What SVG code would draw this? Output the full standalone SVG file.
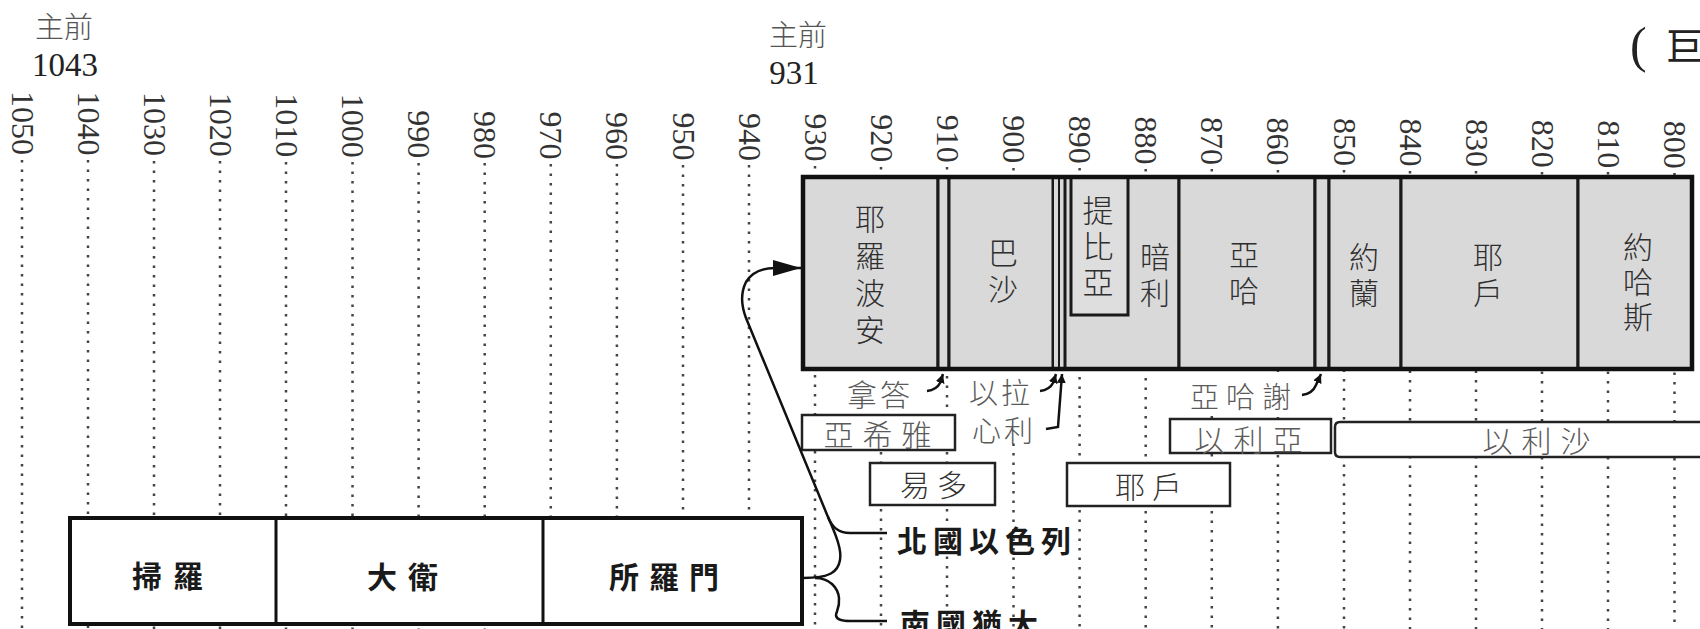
<svg xmlns="http://www.w3.org/2000/svg" width="1700" height="629" viewBox="0 0 1700 629">
<style>
.yr{font-family:"Liberation Serif",serif;font-size:32px;fill:#333;text-anchor:end}
.dot{stroke:#444;stroke-width:2.5;stroke-dasharray:2.5 7;fill:none}
.cj{font-family:"Noto Sans CJK TC","Noto Sans CJK SC",sans-serif}
.k{fill:#d9d9d9;stroke:#1a1a1a;stroke-width:3}
.kl{font-family:"Noto Sans CJK TC","Noto Sans CJK SC",sans-serif;font-size:30px;fill:#2e2e2e;font-weight:300;writing-mode:vertical-rl}
.sl{font-family:"Noto Sans CJK TC","Noto Sans CJK SC",sans-serif;font-size:30px;fill:#5a5a5a;text-anchor:middle;dominant-baseline:central;font-weight:300}
.bx{fill:#fff;stroke:#222;stroke-width:2.5}
.big{font-family:"Noto Sans CJK TC","Noto Sans CJK SC",sans-serif;font-size:30px;fill:#1a1a1a;font-weight:700}
.con{fill:none;stroke:#111;stroke-width:2.5}
.hk{fill:none;stroke:#111;stroke-width:2.5}
</style>
<defs>
<marker id="ah" markerUnits="userSpaceOnUse" markerWidth="30" markerHeight="18" refX="28" refY="8" orient="auto"><path d="M0,0 L28,8 L0,16 z" fill="#111"/></marker>
<marker id="sa" markerUnits="userSpaceOnUse" markerWidth="10" markerHeight="10" refX="9" refY="4.5" orient="auto"><path d="M0,0 L9,4.5 L0,9 z" fill="#111"/></marker>
</defs>
<rect width="1700" height="629" fill="#fff"/>

<g id="header">
<text class="cj" x="64" y="25" font-size="29" fill="#555" font-weight="300" text-anchor="middle" dominant-baseline="central">主前</text>
<text x="65" y="76" font-family="Liberation Serif,serif" font-size="33" fill="#222" text-anchor="middle">1043</text>
<text class="cj" x="798" y="33" font-size="29" fill="#555" font-weight="300" text-anchor="middle" dominant-baseline="central">主前</text>
<text x="794" y="84" font-family="Liberation Serif,serif" font-size="33" fill="#222" text-anchor="middle">931</text>
<text x="1630" y="62" font-family="Liberation Serif,serif" font-size="50" fill="#222">(</text>
<text class="cj" x="1666" y="60" font-size="38" fill="#222">巨</text>
</g>

<g id="gridlines">
<line class="dot" x1="22" y1="160" x2="22" y2="629"/>
<line class="dot" x1="88" y1="160" x2="88" y2="629"/>
<line class="dot" x1="154" y1="161" x2="154" y2="629"/>
<line class="dot" x1="220" y1="161" x2="220" y2="629"/>
<line class="dot" x1="286" y1="162" x2="286" y2="629"/>
<line class="dot" x1="352.5" y1="162" x2="352.5" y2="629"/>
<line class="dot" x1="418.6" y1="163" x2="418.6" y2="629"/>
<line class="dot" x1="484.7" y1="163" x2="484.7" y2="629"/>
<line class="dot" x1="550.8" y1="164" x2="550.8" y2="629"/>
<line class="dot" x1="616.9" y1="164" x2="616.9" y2="629"/>
<line class="dot" x1="683" y1="165" x2="683" y2="629"/>
<line class="dot" x1="749" y1="165" x2="749" y2="629"/>
<line class="dot" x1="815" y1="166" x2="815" y2="629"/>
<line class="dot" x1="881" y1="167" x2="881" y2="629"/>
<line class="dot" x1="947" y1="167" x2="947" y2="629"/>
<line class="dot" x1="1013.5" y1="168" x2="1013.5" y2="629"/>
<line class="dot" x1="1079.6" y1="168" x2="1079.6" y2="629"/>
<line class="dot" x1="1145.7" y1="169" x2="1145.7" y2="629"/>
<line class="dot" x1="1211.8" y1="169" x2="1211.8" y2="629"/>
<line class="dot" x1="1277.9" y1="170" x2="1277.9" y2="629"/>
<line class="dot" x1="1344" y1="170" x2="1344" y2="629"/>
<line class="dot" x1="1410" y1="171" x2="1410" y2="629"/>
<line class="dot" x1="1476" y1="171" x2="1476" y2="629"/>
<line class="dot" x1="1542" y1="172" x2="1542" y2="629"/>
<line class="dot" x1="1608" y1="172" x2="1608" y2="629"/>
<line class="dot" x1="1674.5" y1="173" x2="1674.5" y2="629"/>
</g>

<g id="axis-labels">
<text class="yr" transform="translate(11.5,155) rotate(90)">1050</text>
<text class="yr" transform="translate(77.6,155.6) rotate(90)">1040</text>
<text class="yr" transform="translate(143.7,156.1) rotate(90)">1030</text>
<text class="yr" transform="translate(209.8,156.7) rotate(90)">1020</text>
<text class="yr" transform="translate(275.9,157.2) rotate(90)">1010</text>
<text class="yr" transform="translate(342,157.8) rotate(90)">1000</text>
<text class="yr" transform="translate(408.1,158.3) rotate(90)">990</text>
<text class="yr" transform="translate(474.2,158.9) rotate(90)">980</text>
<text class="yr" transform="translate(540.3,159.4) rotate(90)">970</text>
<text class="yr" transform="translate(606.4,160) rotate(90)">960</text>
<text class="yr" transform="translate(672.5,160.5) rotate(90)">950</text>
<text class="yr" transform="translate(738.6,161.1) rotate(90)">940</text>
<text class="yr" transform="translate(804.7,161.6) rotate(90)">930</text>
<text class="yr" transform="translate(870.8,162.2) rotate(90)">920</text>
<text class="yr" transform="translate(936.9,162.7) rotate(90)">910</text>
<text class="yr" transform="translate(1003,163.3) rotate(90)">900</text>
<text class="yr" transform="translate(1069.1,163.8) rotate(90)">890</text>
<text class="yr" transform="translate(1135.2,164.4) rotate(90)">880</text>
<text class="yr" transform="translate(1201.3,164.9) rotate(90)">870</text>
<text class="yr" transform="translate(1267.4,165.5) rotate(90)">860</text>
<text class="yr" transform="translate(1333.5,166) rotate(90)">850</text>
<text class="yr" transform="translate(1399.6,166.6) rotate(90)">840</text>
<text class="yr" transform="translate(1465.7,167.1) rotate(90)">830</text>
<text class="yr" transform="translate(1531.8,167.7) rotate(90)">820</text>
<text class="yr" transform="translate(1597.9,168.2) rotate(90)">810</text>
<text class="yr" transform="translate(1664,168.8) rotate(90)">800</text>
</g>

<g id="jeroboam"><rect class="k" x="803" y="177" width="135" height="192"/>
<text class="kl" x="870" y="204" letter-spacing="7">耶羅波安</text></g>
<g id="nadab"><rect class="k" x="938" y="177" width="11" height="192"/></g>
<g id="baasha"><rect class="k" x="949" y="177" width="104" height="192"/>
<text class="kl" x="1003" y="238" letter-spacing="6">巴沙</text></g>
<g id="elah"><rect class="k" x="1053" y="177" width="6" height="192" style="stroke-width:2"/></g>
<g id="zimri"><rect class="k" x="1059" y="177" width="6" height="192" style="stroke-width:2"/></g>
<g id="omri"><rect class="k" x="1065" y="177" width="114" height="192"/>
<text class="kl" x="1155" y="242" letter-spacing="6">暗利</text></g>
<g id="tibni"><rect class="k" x="1071" y="177" width="57" height="138" style="fill:#dedede"/>
<text class="kl" x="1098" y="195" letter-spacing="5" style="font-size:31px">提比亞</text></g>
<g id="ahab"><rect class="k" x="1179" y="177" width="136" height="192"/>
<text class="kl" x="1244" y="240" letter-spacing="6">亞哈</text></g>
<g id="ahaziah"><rect class="k" x="1315" y="177" width="14" height="192"/></g>
<g id="joram"><rect class="k" x="1329" y="177" width="72" height="192"/>
<text class="kl" x="1364" y="242" letter-spacing="6">約蘭</text></g>
<g id="jehu"><rect class="k" x="1401" y="177" width="177" height="192"/>
<text class="kl" x="1488" y="242" letter-spacing="6">耶戶</text></g>
<g id="jehoahaz"><rect class="k" x="1578" y="177" width="114" height="192"/>
<text class="kl" x="1638" y="232" letter-spacing="5">約哈斯</text></g>
<rect x="803" y="177" width="889" height="192" fill="none" stroke="#111" stroke-width="4.5"/>

<g id="nadab-label"><rect x="845" y="376" width="70" height="34" fill="#fff"/><text class="sl" x="880" y="393" letter-spacing="3">拿答</text></g>
<g id="elah-label"><rect x="963" y="376" width="74" height="66" fill="#fff"/><text class="sl" x="1001" y="391" letter-spacing="3" style="font-size:29px">以拉</text></g>
<g id="zimri-label"><text class="sl" x="1004" y="429" letter-spacing="3" style="font-size:29px">心利</text></g>
<g id="ahaziah-label"><rect x="1186" y="378" width="112" height="36" fill="#fff"/><text class="sl" x="1244" y="395" letter-spacing="7" style="font-size:29px">亞哈謝</text></g>

<g id="ahijah"><rect class="bx" x="802" y="415" width="153" height="35"/><text class="sl" x="882" y="433" letter-spacing="9">亞希雅</text></g>
<g id="elijah"><rect class="bx" x="1170" y="419" width="161" height="34"/><text class="sl" x="1253" y="438" letter-spacing="9">以利亞</text></g>
<g id="elisha"><path d="M1712,422 L1340,422 Q1335,422 1335,427 L1335,452 Q1335,457 1340,457 L1712,457" fill="#fff" stroke="#222" stroke-width="2.5"/><text class="sl" x="1541" y="439" letter-spacing="9">以利沙</text></g>
<g id="iddo"><rect class="bx" x="870" y="463" width="125" height="42"/><text class="sl" x="937" y="483" letter-spacing="7" style="fill:#333">易多</text></g>
<g id="jehu-prophet"><rect class="bx" x="1067" y="463" width="163" height="43"/><text class="sl" x="1152" y="485" letter-spacing="7" style="fill:#333">耶戶</text></g>

<g id="united-kingdom">
<rect x="70" y="518" width="732" height="106" fill="#fff" stroke="#111" stroke-width="4"/>
<line x1="276" y1="518" x2="276" y2="624" stroke="#111" stroke-width="3"/>
<line x1="543" y1="518" x2="543" y2="624" stroke="#111" stroke-width="3"/>
<text class="big" x="132" y="574" dominant-baseline="central" letter-spacing="11" font-size="34">掃羅</text>
<text class="big" x="367" y="575" dominant-baseline="central" letter-spacing="11" font-size="34">大衛</text>
<text class="big" x="609" y="575" dominant-baseline="central" letter-spacing="10" font-size="34">所羅門</text>
</g>

<g id="north-label"><text class="big" x="897" y="552" letter-spacing="6">北國以色列</text></g>
<g id="south-label"><text class="big" x="900" y="635" letter-spacing="6">南國猶大</text></g>

<g id="connectors">
<path class="con" d="M887,533 L850,533 C838,533 832,527 828,517 L746,318 C741,305 741,292 746,282 C752,272 762,268 775,268 L801,268" marker-end="url(#ah)"/>
<path class="con" d="M828,517 C836,535 842,550 840,560 C838,572 830,578 803,578 M815,578 C830,578 838,588 839,598 C840,608 836,612 836,615 C836,619 842,621 850,621 L887,621"/>
<path class="hk" d="M927,391 C935,390 938,387 940,383 L943,374" marker-end="url(#sa)"/>
<path class="hk" d="M1040,391 C1048,390 1051,387 1053,383 L1056,374" marker-end="url(#sa)"/>
<path class="hk" d="M1046,429 L1058,427 L1062,374" marker-end="url(#sa)"/>
<path class="hk" d="M1302,395 C1310,394 1314,390 1316,385 L1321,374" marker-end="url(#sa)"/>
</g>
</svg>
